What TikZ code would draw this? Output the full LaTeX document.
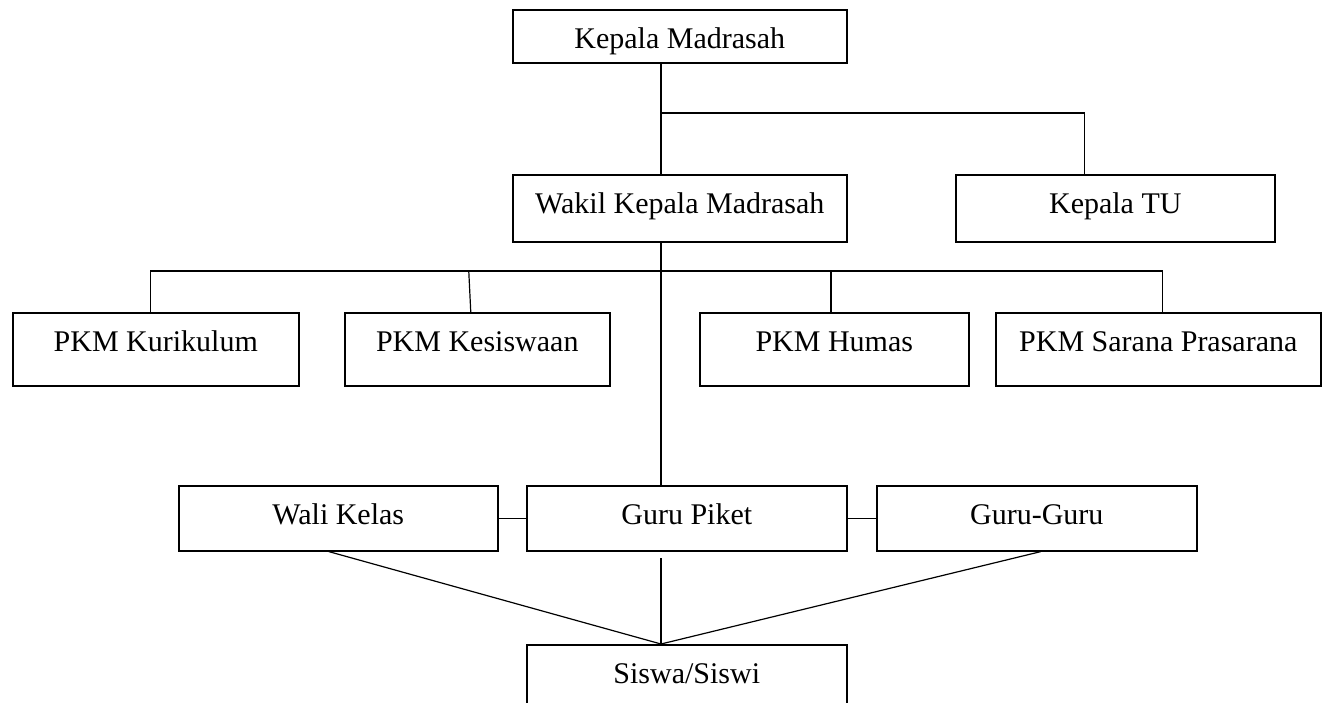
\documentclass[tikz,border=0pt]{standalone}
\usepackage{fontspec}
\setmainfont{Liberation Serif}
\tikzset{
  unit/.style={draw, line width=1.2pt, inner sep=0pt, anchor=north west,
    font=\fontsize{22.5}{27}\selectfont, text height=29.25pt},
  link/.style={line width=0.9pt}
}
\begin{document}
\begin{tikzpicture}[x=0.75pt,y=-0.75pt]
\useasboundingbox (0,0) rectangle (1322,703);

\node[unit, minimum width=250.5pt, text depth=10.5pt] (kepala) at (512,9) {Kepala Madrasah};
\node[unit, minimum width=250.5pt, text depth=21pt] (wakil) at (512,174) {Wakil Kepala Madrasah};
\node[unit, minimum width=239.25pt, text depth=21pt] (tu) at (955,174) {Kepala TU};

\node[unit, minimum width=214.5pt, text depth=25.5pt] (kurikulum) at (12,312) {PKM Kurikulum};
\node[unit, minimum width=198.75pt, text depth=25.5pt] (kesiswaan) at (344,312) {PKM Kesiswaan};
\node[unit, minimum width=201.75pt, text depth=25.5pt] (humas) at (699,312) {PKM Humas};
\node[unit, minimum width=243.75pt, text depth=25.5pt] (sarana) at (995,312) {PKM Sarana Prasarana};

\node[unit, minimum width=239.25pt, text depth=19.5pt] (wali) at (178,485) {Wali Kelas};
\node[unit, minimum width=240pt, text depth=19.5pt] (piket) at (526,485) {Guru Piket};
\node[unit, minimum width=240pt, text depth=19.5pt] (guru) at (876,485) {Guru-Guru};

\node[unit, minimum width=240pt, text depth=21.75pt] (siswa) at (526,644) {Siswa/Siswi};

\coordinate (trunk) at (661,113);
\coordinate (bus) at (661,271);
\coordinate (gap) at (661,558);
\coordinate (meet) at (661,644);

\draw[link] (kepala.south -| trunk) -- (wakil.north -| trunk);
\draw[link] (trunk) -| ([xshift=-22.9pt]tu.north);
\draw[link] (wakil.south -| bus) -- (piket.north -| bus);
\draw[link] ([xshift=-3.75pt]kurikulum.north) |- (bus) -| ([xshift=3.4pt]sarana.north);
\draw[link] ([xshift=-6.4pt,yshift=30.75pt]kesiswaan.north) -- ([xshift=-4.9pt]kesiswaan.north);
\draw[link] (humas.north -| 831,0) -- (bus -| 831,0);

\draw[link] (wali) -- (piket);
\draw[link] (piket) -- (guru);
\draw[link] (gap) -- (meet);
\draw[link] ([xshift=-7.1pt]wali.south) -- (meet);
\draw[link] ([xshift=3pt]guru.south) -- (meet);
\end{tikzpicture}
\end{document}
